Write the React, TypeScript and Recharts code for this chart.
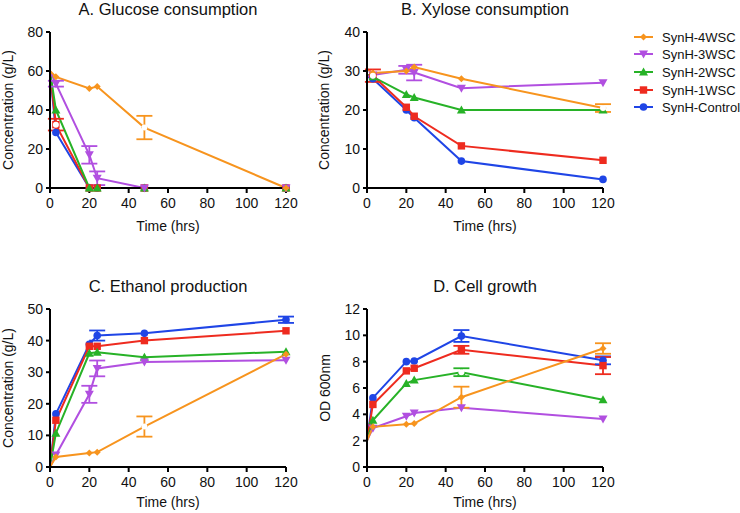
import React from 'react';
import { LineChart, Line, XAxis, YAxis, ErrorBar } from 'recharts';

const times = [0, 3, 20, 24, 48, 120];
const seriesNames = ['SynH-4WSC', 'SynH-3WSC', 'SynH-2WSC', 'SynH-1WSC', 'SynH-Control'];
const seriesColors = ['#F7941E', '#B14FE0', '#27B227', '#EE2B1F', '#1F45E6'];
const seriesShapes = ['diamond', 'triangleDown', 'triangle', 'square', 'circle'];
const xTicks = [0, 20, 40, 60, 80, 100, 120];

// A. Glucose consumption
const glucose4WSC = [60, 57, 51, 52, 31, 0];
const glucose3WSC = [60, 53.5, 17, 5, 0, 0];
const glucose2WSC = [60, 40, 0, 0, 0, 0];
const glucose1WSC = [60, 32.5, 0, 0, 0, 0];
const glucoseControl = [60, 28.5, 0, 0, 0, 0];
const glucoseErr4WSC = [0, 0, 0, 0, 6, 0];
const glucoseErr3WSC = [0, 1.5, 4.5, 3.5, 0, 0];
const glucoseErr2WSC = [0, 0, 0, 0, 0, 0];
const glucoseErr1WSC = [0, 3, 0, 0, 0, 0];
const glucoseErrControl = [0, 0, 0, 0, 0, 0];
const glucoseTicks = [0, 20, 40, 60, 80];

// B. Xylose consumption
const xylose4WSC = [30.5, 29.5, 30, 31, 28, 20.5];
const xylose3WSC = [28.5, 29, 30.3, 29.6, 25.6, 27];
const xylose2WSC = [29, 28.5, 24, 23.2, 20, 20];
const xylose1WSC = [29, 28.8, 20.7, 18.4, 10.8, 7.1];
const xyloseControl = [28.5, 28, 20, 18, 6.9, 2.2];
const xyloseErr4WSC = [0, 0, 0, 0, 0, 1];
const xyloseErr3WSC = [0, 0, 1, 2, 0, 0];
const xyloseErr2WSC = [0, 0, 0, 0, 0, 0];
const xyloseErr1WSC = [0, 1.6, 0, 0, 0, 0];
const xyloseErrControl = [0, 0, 0, 0, 0, 0];
const xyloseTicks = [0, 10, 20, 30, 40];

// C. Ethanol production
const ethanol4WSC = [0, 3.2, 4.4, 4.7, 12.8, 35.7];
const ethanol3WSC = [0, 3.8, 23, 31.2, 33.2, 33.8];
const ethanol2WSC = [0, 10.7, 36, 36.3, 34.7, 36.5];
const ethanol1WSC = [0, 14.8, 38.2, 38.2, 40, 43.1];
const ethanolControl = [0, 16.8, 38.8, 41.6, 42.3, 46.6];
const ethanolErr4WSC = [0, 0, 0, 0, 3.2, 0];
const ethanolErr3WSC = [0, 0, 2.7, 2.5, 0, 0];
const ethanolErr2WSC = [0, 0, 0, 0, 0, 0];
const ethanolErr1WSC = [0, 0, 0, 0, 0, 0];
const ethanolErrControl = [0, 0, 0, 1.6, 0, 1];
const ethanolTicks = [0, 10, 20, 30, 40, 50];

// D. Cell growth
const od4WSC = [2, 3.05, 3.25, 3.3, 5.3, 9.0];
const od3WSC = [2, 2.95, 3.85, 4.1, 4.5, 3.65];
const od2WSC = [2, 3.55, 6.35, 6.6, 7.2, 5.1];
const od1WSC = [2, 4.75, 7.3, 7.5, 8.9, 7.7];
const odControl = [2, 5.25, 8.0, 8.05, 9.95, 8.1];
const odErr4WSC = [0, 0, 0, 0, 0.8, 0.4];
const odErr3WSC = [0, 0, 0, 0, 0, 0];
const odErr2WSC = [0, 0, 0, 0, 0.3, 0];
const odErr1WSC = [0, 0, 0, 0, 0.3, 0.65];
const odErrControl = [0, 0, 0, 0, 0.45, 0.3];
const odTicks = [0, 2, 4, 6, 8, 10, 12];

const FONT = '"Liberation Sans", Arial, Helvetica, sans-serif';

type Panel = {
  values: number[][];
  errors: number[][];
  yTicks: number[];
  left: number;
  top: number;
  plotTop: number;
  plotBottom: number;
};

const panels: Panel[] = [
  {
    values: [glucose4WSC, glucose3WSC, glucose2WSC, glucose1WSC, glucoseControl],
    errors: [glucoseErr4WSC, glucoseErr3WSC, glucoseErr2WSC, glucoseErr1WSC, glucoseErrControl],
    yTicks: glucoseTicks, left: 0, top: 0, plotTop: 32, plotBottom: 188,
  },
  {
    values: [xylose4WSC, xylose3WSC, xylose2WSC, xylose1WSC, xyloseControl],
    errors: [xyloseErr4WSC, xyloseErr3WSC, xyloseErr2WSC, xyloseErr1WSC, xyloseErrControl],
    yTicks: xyloseTicks, left: 317, top: 0, plotTop: 32, plotBottom: 188,
  },
  {
    values: [ethanol4WSC, ethanol3WSC, ethanol2WSC, ethanol1WSC, ethanolControl],
    errors: [ethanolErr4WSC, ethanolErr3WSC, ethanolErr2WSC, ethanolErr1WSC, ethanolErrControl],
    yTicks: ethanolTicks, left: 0, top: 240, plotTop: 309, plotBottom: 467,
  },
  {
    values: [od4WSC, od3WSC, od2WSC, od1WSC, odControl],
    errors: [odErr4WSC, odErr3WSC, odErr2WSC, odErr1WSC, odErrControl],
    yTicks: odTicks, left: 317, top: 240, plotTop: 309, plotBottom: 467,
  },
];

function Marker({ shape, color, cx, cy }: { shape: string; color: string; cx: number; cy: number }) {
  switch (shape) {
    case 'diamond':
      return <path d={`M${cx},${cy - 3.5}L${cx + 3.5},${cy}L${cx},${cy + 3.5}L${cx - 3.5},${cy}Z`} fill={color} />;
    case 'triangleDown':
      return <path d={`M${cx - 4.5},${cy - 3.5}L${cx + 4.5},${cy - 3.5}L${cx},${cy + 4.5}Z`} fill={color} />;
    case 'triangle':
      return <path d={`M${cx - 4.5},${cy + 3.5}L${cx + 4.5},${cy + 3.5}L${cx},${cy - 4.5}Z`} fill={color} />;
    case 'square':
      return <rect x={cx - 3.7} y={cy - 3.7} width={7.4} height={7.4} fill={color} />;
    default:
      return <circle cx={cx} cy={cy} r={3.8} fill={color} />;
  }
}

const makeDot = (shape: string, color: string) => (props: any) => {
  const { cx, cy, index, payload } = props;
  if (cx == null || cy == null || isNaN(cx) || isNaN(cy) || (payload && payload.t === 0)) {
    return <g key={`d${index}`} />;
  }
  return (
    <g key={`d${index}`}>
      <Marker shape={shape} color={color} cx={cx} cy={cy} />
    </g>
  );
};

function PanelChart({ p }: { p: Panel }) {
  const width = 300;
  const marginTop = p.plotTop - p.top;
  const xAxisHeight = 46;
  const height = p.plotBottom - p.top + xAxisHeight;
  const order = [4, 3, 2, 1, 0];
  const lineData = order.map((s) =>
    times.map((t, i) => ({ t, v: p.values[s][i] }))
  );
  const errData = order.map((s) =>
    times
      .map((t, i) => ({ t, v: p.values[s][i], e: p.errors[s][i] }))
      .filter((d) => d.e > 0)
  );
  const yMax = p.yTicks[p.yTicks.length - 1];
  return (
    <div style={{ position: 'absolute', left: p.left, top: p.top }}>
      <LineChart width={width} height={height} margin={{ top: marginTop, right: 14, bottom: 0, left: 0 }}>
        <XAxis
          type="number"
          dataKey="t"
          domain={[0, 120]}
          ticks={xTicks}
          interval={0}
          height={xAxisHeight}
          axisLine={{ stroke: '#000', strokeWidth: 2 }}
          tickLine={{ stroke: '#000', strokeWidth: 2 }}
          tickSize={5}
          tickMargin={5}
          tick={{ fill: '#111', fontSize: 14, fontFamily: FONT }}
          allowDuplicatedCategory={false}
        />
        <YAxis
          type="number"
          domain={[0, yMax]}
          ticks={p.yTicks}
          interval={0}
          width={50}
          axisLine={{ stroke: '#000', strokeWidth: 2 }}
          tickLine={{ stroke: '#000', strokeWidth: 2 }}
          tickSize={4}
          tickMargin={3}
          tick={{ fill: '#111', fontSize: 14, fontFamily: FONT }}
        />
        {order.map((s, k) => (
          <Line
            key={`l${s}`}
            data={lineData[k]}
            dataKey="v"
            type="linear"
            stroke={seriesColors[s]}
            strokeWidth={2}
            dot={makeDot(seriesShapes[s], seriesColors[s])}
            activeDot={false}
            isAnimationActive={false}
          />
        ))}
        {order.map((s, k) =>
          errData[k].length > 0 ? (
            <Line
              key={`e${s}`}
              data={errData[k]}
              dataKey="v"
              stroke="none"
              dot={false}
              activeDot={false}
              isAnimationActive={false}
            >
              <ErrorBar dataKey="e" width={8} stroke={seriesColors[s]} strokeWidth={1.8} direction="y" />
            </Line>
          ) : null
        )}
      </LineChart>
    </div>
  );
}

const titles = ['A. Glucose consumption', 'B. Xylose consumption', 'C. Ethanol production', 'D. Cell growth'];
const yLabels = ['Concentration (g/L)', 'Concentration (g/L)', 'Concentration (g/L)', 'OD 600nm'];
const xLabel = 'Time (hrs)';

export default function App() {
  const titlePos = [
    { x: 168, y: 15 },
    { x: 485, y: 15 },
    { x: 168, y: 292 },
    { x: 485, y: 292 },
  ];
  const xLabelPos = [
    { x: 168, y: 231 },
    { x: 485, y: 231 },
    { x: 168, y: 507 },
    { x: 485, y: 507 },
  ];
  const yLabelPos = [
    { x: 13, y: 110 },
    { x: 329, y: 110 },
    { x: 13, y: 388 },
    { x: 330, y: 388 },
  ];
  const legendY = [37, 54, 72, 90, 107];
  return (
    <div style={{ position: 'absolute', left: 0, top: 0, width: 740, height: 513, background: '#fff', overflow: 'hidden' }}>
      {panels.map((p, i) => (
        <PanelChart key={i} p={p} />
      ))}
      <svg width={740} height={513} style={{ position: 'absolute', left: 0, top: 0, pointerEvents: 'none' }}>
        {titles.map((t, i) => (
          <text key={`t${i}`} x={titlePos[i].x} y={titlePos[i].y} textAnchor="middle" fontSize={16.5} fontFamily={FONT} fill="#111">
            {t}
          </text>
        ))}
        {xLabelPos.map((pos, i) => (
          <text key={`x${i}`} x={pos.x} y={pos.y} textAnchor="middle" fontSize={14} fontFamily={FONT} fill="#111">
            {xLabel}
          </text>
        ))}
        {yLabels.map((t, i) => (
          <text
            key={`y${i}`}
            x={yLabelPos[i].x}
            y={yLabelPos[i].y}
            textAnchor="middle"
            fontSize={14}
            fontFamily={FONT}
            fill="#111"
            transform={`rotate(-90 ${yLabelPos[i].x} ${yLabelPos[i].y})`}
          >
            {t}
          </text>
        ))}
        {seriesNames.map((n, i) => (
          <g key={`lg${i}`}>
            <line x1={634} x2={653} y1={legendY[i]} y2={legendY[i]} stroke={seriesColors[i]} strokeWidth={2} />
            <Marker shape={seriesShapes[i]} color={seriesColors[i]} cx={643.5} cy={legendY[i]} />
            <text x={662} y={legendY[i] + 4.5} fontSize={13} fontFamily={FONT} fill="#111">
              {n}
            </text>
          </g>
        ))}
      </svg>
    </div>
  );
}
